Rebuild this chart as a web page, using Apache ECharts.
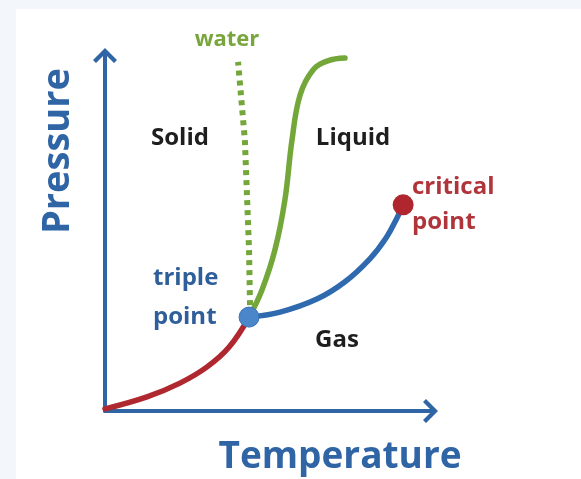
<!DOCTYPE html>
<html>
<head>
<meta charset="utf-8">
<script src="https://cdn.jsdelivr.net/npm/echarts@6/dist/echarts.min.js"></script>
<style>
  html, body { margin: 0; padding: 0; background: #f3f6fb; }
  #chart { position: absolute; left: 16px; top: 9px; width: 565px; height: 470px; background: #fff; }
</style>
</head>
<body>
<div id="chart"></div>
<script>
// phase diagram: temperature on x, pressure on y (arbitrary units 0..100)
var sublimation = [[0, 0.6], [13.0, 4.0], [23.2, 7.9], [31.6, 12.5], [38.5, 18.2], [44.6, 26.6]];
var vaporization = [[44.6, 26.6], [54.2, 28.0], [65.6, 31.7], [74.3, 36.6], [82.0, 43.1], [87.0, 49.0], [90.4, 54.7], [92.3, 58.4]];
var fusion = [[44.6, 26.6], [48.6, 34.3], [52.6, 45.6], [55.7, 59.8], [57.9, 76.8], [60.4, 89.5], [64.4, 96.6], [69.0, 99.2], [74.3, 100]];
var fusionWater = [[44.9, 30], [44.6, 45.6], [43.3, 76.8], [41.2, 98.9]];
var triplePoint = [[44.6, 26.6]];
var criticalPoint = [[92.3, 58.4]];

var BLUE = '#2f64a5';
var RED = '#b0282f';
var GREEN = '#74a73a';
var FONT = '"Open Sans"';

// chevron arrow head with a short stem, pointing up
var arrowPath = 'path://M12,0 L24,12 L21,15 L12,6 L3,15 L0,12 Z M10,4 L14,4 L14,20 L10,20 Z';

function txt(x, y, text, color, size, align, rot) {
	return {
		type: 'text', x: x, y: y, rotation: rot || 0, z: 10,
		style: {
			text: text, fill: color, fontFamily: FONT, fontWeight: 'bold', fontSize: size,
			align: align || 'center', verticalAlign: 'middle'
		}
	};
}

var chart = echarts.init(document.getElementById('chart'));
chart.setOption({
	animation: false,
	grid: { left: 89, top: 49, right: 153, bottom: 68 },
	xAxis: {
		type: 'value', min: 0, max: 100,
		splitLine: { show: false }, axisTick: { show: false }, axisLabel: { show: false },
		axisLine: { onZero: false, symbol: ['none', arrowPath], symbolSize: [24, 20], lineStyle: { color: BLUE, width: 4 } }
	},
	yAxis: {
		type: 'value', min: 0, max: 100,
		splitLine: { show: false }, axisTick: { show: false }, axisLabel: { show: false },
		axisLine: { show: true, onZero: false, symbol: ['none', arrowPath], symbolSize: [24, 20], lineStyle: { color: BLUE, width: 4 } }
	},
	series: [
		{ type: 'line', data: fusionWater, showSymbol: false, clip: false, z: 3,
		  lineStyle: { color: GREEN, width: 6, type: [5, 5], cap: 'butt' } },
		{ type: 'line', data: sublimation, smooth: 0.4, showSymbol: false, clip: false, z: 4,
		  lineStyle: { color: RED, width: 5.5, cap: 'round' } },
		{ type: 'line', data: fusion, smooth: 0.4, showSymbol: false, clip: false, z: 4,
		  lineStyle: { color: GREEN, width: 5.5, cap: 'round' } },
		{ type: 'line', data: vaporization, smooth: 0.4, showSymbol: false, clip: false, z: 4,
		  lineStyle: { color: '#2f69ae', width: 5.5, cap: 'round' } },
		{ type: 'scatter', data: triplePoint, symbolSize: 20, z: 6,
		  itemStyle: { color: '#4a86c9', borderColor: '#3b73b5', borderWidth: 1, opacity: 1 } },
		{ type: 'scatter', data: criticalPoint, symbolSize: 21, z: 6,
		  itemStyle: { color: '#b0262e', opacity: 1 } }
	],
	graphic: [
		txt(211, 31, 'water', '#78a63c', 22),
		txt(164, 129, 'Solid', '#1e1e1e', 24),
		txt(337, 129, 'Liquid', '#1e1e1e', 24),
		txt(396, 178, 'critical', '#b0353b', 24, 'left'),
		txt(396, 213, 'point', '#b0353b', 24, 'left'),
		txt(137, 269, 'triple', '#2f5f9a', 24, 'left'),
		txt(137, 308, 'point', '#2f5f9a', 24, 'left'),
		txt(321, 331, 'Gas', '#1e1e1e', 24),
		txt(324, 448, 'Temperature', BLUE, 37),
		txt(42, 142, 'Pressure', BLUE, 38, 'center', Math.PI / 2)
	]
});
</script>
</body>
</html>
